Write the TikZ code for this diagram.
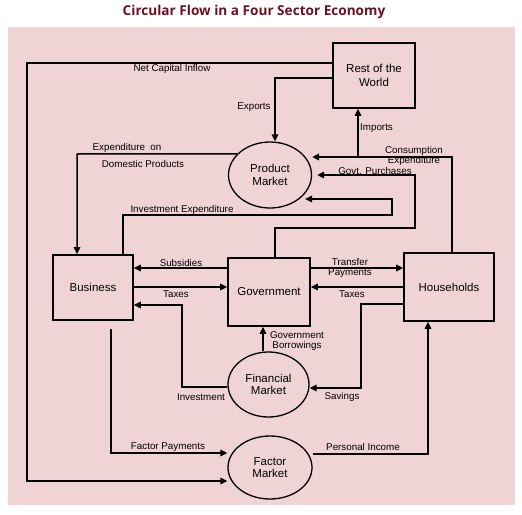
\documentclass[tikz,border=0pt]{standalone}
\usepackage{fontspec}
\setmainfont{Liberation Sans}
\newfontfamily\titlefont{Open Sans}
\usetikzlibrary{arrows.meta,shapes.geometric}
\definecolor{bgpink}{HTML}{F0D4D5}
\definecolor{titlered}{HTML}{6E1020}
\begin{document}
\begin{tikzpicture}[x=1pt,y=-1pt,
  box/.style={draw,line width=1.6pt,rectangle,inner sep=0pt,align=center,font=\fontsize{11.5}{13.5}\selectfont},
  mkt/.style={draw,line width=1.3pt,ellipse,inner sep=0pt,align=center,font=\fontsize{11.5}{12.5}\selectfont},
  flow/.style={line width=1.5pt,-{Triangle[length=7pt,width=6.5pt]}},
  lbl/.style={inner sep=0pt,align=center,font=\fontsize{9.8}{9.6}\selectfont}]
\useasboundingbox (0,0) rectangle (522,514);
\fill[bgpink] (8,27) rectangle (515,505);
\node[font=\titlefont\bfseries\fontsize{13.6}{15}\selectfont,text=titlered] (title) at (254,12) {Circular Flow in a Four Sector Economy};

% nodes
\node[box,minimum width=82pt,minimum height=65pt] (row) at (374,75.5) {Rest of the\\World};
\node[mkt,minimum width=83pt,minimum height=66pt] (pm) at (270,175) {Product\\Market};
\node[box,minimum width=80pt,minimum height=65pt] (bus) at (93,287.5) {Business};
\node[box,minimum width=82pt,minimum height=68pt] (gov) at (269,292) {Government};
\node[box,minimum width=90pt,minimum height=68pt] (hh) at (449,287) {Households};
\node[mkt,minimum width=81pt,minimum height=65pt] (fin) at (268.5,384.5) {Financial\\Market};
\node[mkt,minimum width=84pt,minimum height=63pt] (fac) at (270,467.5) {Factor\\Market};

% helper coordinates
\coordinate (cj) at (358,157);
\coordinate (ie) at (305,199);
\coordinate (fp) at (111,329);

% connectors
\draw[flow] (row.west |- 0,63) -- (27,63) -- (27,481) -- (fac.west |- 0,481);
\draw[flow] (row.west |- 0,78) -- (275,78) -- (pm.north -| 275,0);
\draw[flow] (cj) -- (row.south -| cj);
\draw[flow] (hh.north -| 452,0) -- (452,157) -- (pm.east |- cj);
\draw[flow] (gov.north -| 275,0) -- (275,228) -- (415,228) -- (415,175) -- ([xshift=5pt]pm.east);
\draw[flow] (bus.north -| 123,0) -- (123,215) -- (392,215) -- (392,199) -- (ie);
\draw[flow] (pm.147) -- (77,154) -- (bus.north -| 77,0);
\draw[flow] (gov.west |- 0,268) -- (bus.east |- 0,268);
\draw[flow] (bus.east |- 0,287) -- (gov.west |- 0,287);
\draw[flow] (fin.west |- 0,387) -- (182,387) -- (182,305) -- (bus.east |- 0,305);
\draw[flow] (gov.east |- 0,268) -- (hh.west |- 0,268);
\draw[flow] (hh.west |- 0,287) -- (gov.east |- 0,287);
\draw[flow] (hh.west |- 0,304) -- (361,304) -- (361,388) -- (fin.east |- 0,388);
\draw[flow] (fin.north -| 263,0) -- (gov.south -| 263,0);
\draw[flow] (fp) -- (111,453) -- (fac.west |- 0,453);
\draw[flow] (fac.east |- 0,454) -- (428,454) -- (hh.south -| 428,0);

% labels
\node[lbl] (lnci) at (172,69) {Net Capital Inflow};
\node[lbl] (lexp) at (254,107) {Exports};
\node[lbl,anchor=west] (limp) at (360,128) {Imports};
\node[lbl,font=\fontsize{9.8}{8.8}\selectfont] (lce) at (414,156) {Consumption\\Expenditure};
\node[lbl] (lgp) at (375,170.5) {Govt. Purchases};
\node[lbl] (lie) at (182,210) {Investment Expenditure};
\node[lbl] (leo) at (127,148) {Expenditure \ on};
\node[lbl] (ldp) at (143,164) {Domestic Products};
\node[lbl] (lsub) at (181,263) {Subsidies};
\node[lbl] (ltb) at (176,294) {Taxes};
\node[lbl] (linv) at (201,397) {Investment};
\node[lbl] (ltp) at (350,268) {Transfer\\Payments};
\node[lbl] (lth) at (352,294) {Taxes};
\node[lbl] (lsav) at (342,397) {Savings};
\node[lbl] (lgb) at (297,341) {Government\\Borrowings};
\node[lbl] (lfp) at (168,447) {Factor Payments};
\node[lbl] (lpi) at (363,447) {Personal Income};
\end{tikzpicture}
\end{document}
